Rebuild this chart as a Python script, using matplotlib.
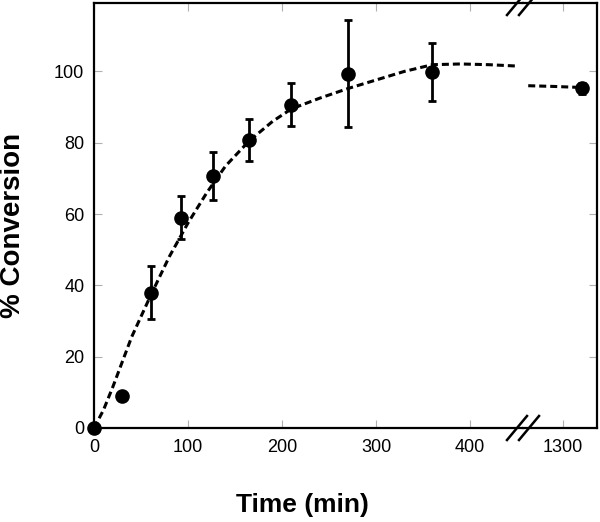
import matplotlib
matplotlib.use('Agg')
import matplotlib.pyplot as plt
from matplotlib.lines import Line2D

plt.rcParams['font.family'] = ['Liberation Sans', 'DejaVu Sans']

# measured points (min, % conversion) with error bars
time = [0, 30, 61, 93, 127, 165, 210, 270, 360, 1320]
conversion = [0, 9, 38, 59, 70.7, 80.8, 90.7, 99.4, 99.9, 95.3]
error = [0, 0, 7.5, 6, 6.7, 6, 6, 15, 8.2, 1.5]

# dashed fit
fit_time = [0, 10, 20, 40, 60, 80, 100, 120, 140, 165, 190, 210, 240,
            270, 300, 330, 360, 390, 420, 451]
fit_conv = [0, 5, 11.5, 25.5, 37, 48, 57.5, 66, 73.5, 80.5, 86, 89.5, 92.5,
            95.2, 97.6, 100, 101.9, 102.1, 101.9, 101.5]
fit_time_late = [1263, 1290, 1320]
fit_conv_late = [96, 95.8, 95.5]

left_ticks = [0, 100, 200, 300, 400]
right_ticks = [1300]
y_ticks = [0, 20, 40, 60, 80, 100]

W, H = 600, 522
fig = plt.figure(figsize=(W / 100, H / 100), dpi=100)
x0, xb, x1 = 94, 523, 597
ytop, ybot = 3, 428
ax1 = fig.add_axes([x0 / W, (H - ybot) / H, (xb - x0) / W, (ybot - ytop) / H])
ax2 = fig.add_axes([xb / W, (H - ybot) / H, (x1 - xb) / W, (ybot - ytop) / H],
                   sharey=ax1)

for ax in (ax1, ax2):
    ax.errorbar(time, conversion, yerr=error, fmt='o', color='black',
                markersize=9.5, elinewidth=2, capsize=3.2, capthick=2,
                clip_on=False, zorder=3)
    for s in ax.spines.values():
        s.set_linewidth(1.6)
    ax.tick_params(direction='in', length=6, width=0.8, color='#b0b0b0',
                   labelsize=13, top=True, right=True)
    ax.tick_params(axis='x', pad=8)
    ax.tick_params(axis='y', pad=7)

ax1.plot(fit_time, fit_conv, color='black', lw=2.2,
         linestyle=(0, (2.3, 1.3)), zorder=2)
ax2.plot(fit_time_late, fit_conv_late, color='black', lw=2.2,
         linestyle=(0, (2.3, 1.3)), zorder=2)

ax1.set_xlim(0, (xb - x0) / 0.94)
ax2.set_xlim(1300 - (563 - xb) / 0.94, 1300 + (x1 - 563) / 0.94)
ax1.set_ylim(0, 119.2)
ax1.set_xticks(left_ticks)
ax2.set_xticks(right_ticks)
ax1.set_yticks(y_ticks)
ax1.spines['right'].set_visible(False)
ax2.spines['left'].set_visible(False)
ax1.tick_params(right=False)
ax2.tick_params(left=False, labelleft=False)

# break marks on top and bottom spines
for yc in (ytop, ybot):
    for xc in (517, 529):
        fig.add_artist(Line2D([(xc - 10) / W, (xc + 10) / W],
                              [(H - yc - 12) / H, (H - yc + 12) / H],
                              color='black', lw=1.8, clip_on=False))

fig.text(302 / W, 1 - 505 / H, 'Time (min)', ha='center', va='center',
         fontsize=19, fontweight='bold')
fig.text(13 / W, 1 - 225 / H, '% Conversion', ha='center', va='center',
         rotation=90, fontsize=20, fontweight='bold')

fig.savefig('out.png', dpi=100)
